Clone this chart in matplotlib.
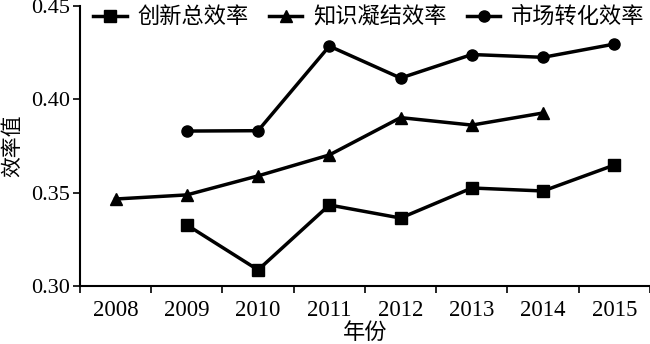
import matplotlib
matplotlib.use('Agg')
import matplotlib.pyplot as plt
import numpy as np

# 数据
years = ['2008', '2009', '2010', '2011', '2012', '2013', '2014', '2015']
zong = [np.nan, 0.3327, 0.3086, 0.3434, 0.3364, 0.3525, 0.3509, 0.3648]
zhishi = [0.3466, 0.3488, 0.3590, 0.3702, 0.3902, 0.3862, 0.3927, np.nan]
shichang = [np.nan, 0.3830, 0.3832, 0.4285, 0.4114, 0.4240, 0.4225, 0.4296]

cjk = ['Noto Sans CJK SC', 'DejaVu Sans']
serif = ['Liberation Serif', 'DejaVu Serif']

fig = plt.figure(figsize=(6.5, 3.44), dpi=100)
ax = fig.add_axes([0.123, 0.1686, 0.877, 0.814])

x = np.arange(len(years))
ax.plot(x, zong, '-s', color='black', lw=2.5, ms=8, label='创新总效率')
ax.plot(x, zhishi, '-^', color='black', lw=2.5, ms=8, label='知识凝结效率')
ax.plot(x, shichang, '-o', color='black', lw=2.5, ms=8, label='市场转化效率')

ax.set_xlim(-0.5, 7.5)
ax.set_ylim(0.30, 0.45)
ax.set_yticks([0.30, 0.35, 0.40, 0.45])
ax.set_yticklabels(['0.30', '0.35', '0.40', '0.45'], fontfamily=serif, fontsize=16)
ax.set_xticks(x)
ax.set_xticklabels(years, fontfamily=serif, fontsize=16.5)
ax.set_xticks(np.arange(-0.5, 8, 1), minor=True)
ax.tick_params(axis='x', which='major', length=0, pad=10)
ax.tick_params(axis='x', which='minor', length=5, width=1.2, direction='out')
ax.tick_params(axis='y', length=5, width=1.2, direction='out', pad=2)

for s in ['top', 'right']:
    ax.spines[s].set_visible(False)
for s in ['left', 'bottom']:
    ax.spines[s].set_linewidth(1.5)

ax.set_ylabel('效率值', fontfamily=cjk, fontsize=15, labelpad=6)
ax.set_xlabel('年份', fontfamily=cjk, fontsize=16, labelpad=0)

leg = ax.legend(loc='upper left', ncol=3, frameon=False, prop={'family': cjk, 'size': 16},
                handlelength=1.5, handletextpad=0.5, columnspacing=0.9,
                bbox_to_anchor=(0.0, 1.05), borderaxespad=0.2)

fig.savefig('out.png', dpi=100)
